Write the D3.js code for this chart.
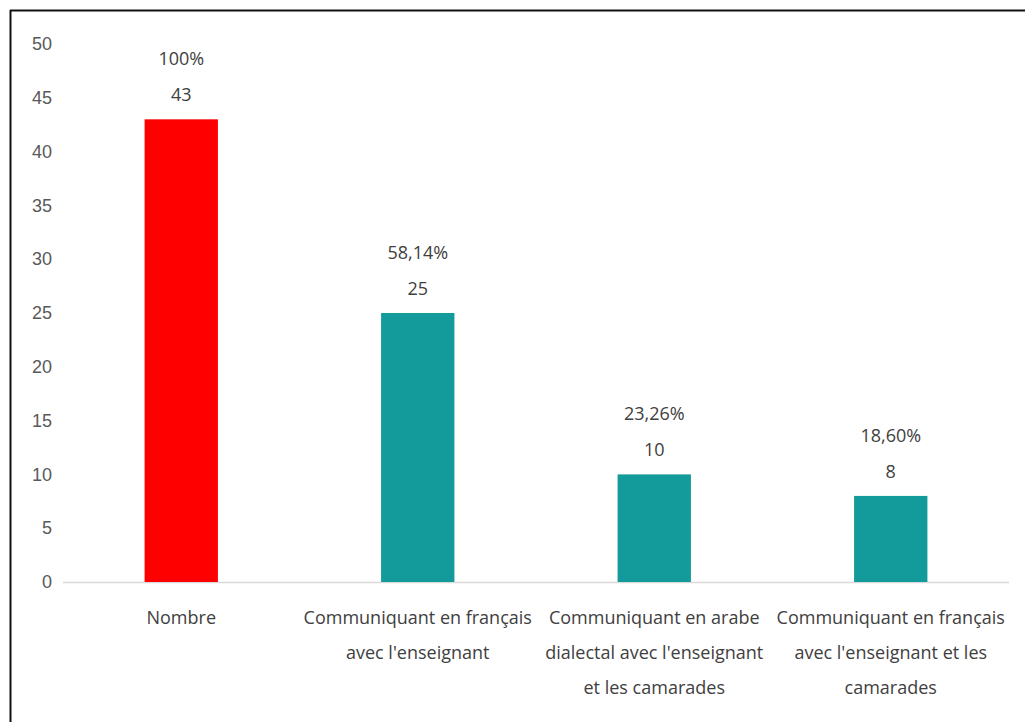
<!DOCTYPE html>
<html>
<head>
<meta charset="utf-8">
<script src="https://cdn.jsdelivr.net/npm/d3@7"></script>
<style>
  html, body { margin: 0; padding: 0; background: #fff; }
  svg { display: block; }
  text { font-family: "Liberation Sans Narrow", "Open Sans", sans-serif; }
</style>
</head>
<body>
<svg id="chart" width="1025" height="722"></svg>
<script>
// Category labels (each entry is a list of wrapped lines)
const categories = [
  ["Nombre"],
  ["Communiquant en français", "avec l'enseignant"],
  ["Communiquant en arabe", "dialectal avec l'enseignant", "et les camarades"],
  ["Communiquant en français", "avec l'enseignant et les", "camarades"]
];
const counts = [43, 25, 10, 8];
const percents = ["100%", "58,14%", "23,26%", "18,60%"];
const barColors = ["#ff0000", "#139a9a", "#139a9a", "#139a9a"];
const yTicks = [0, 5, 10, 15, 20, 25, 30, 35, 40, 45, 50];

const svg = d3.select("#chart");

// Frame: top and left edges
svg.append("line").attr("x1", 10).attr("x2", 1025).attr("y1", 10.5).attr("y2", 10.5)
  .attr("stroke", "#111").attr("stroke-width", 2);
svg.append("line").attr("x1", 10.5).attr("x2", 10.5).attr("y1", 10).attr("y2", 722)
  .attr("stroke", "#111").attr("stroke-width", 2);

const x = d3.scaleBand()
  .domain(d3.range(categories.length))
  .range([63, 1009])
  .paddingInner(0.69)
  .paddingOuter(0.345);

const y = d3.scaleLinear().domain([0, 50]).range([582, 44]);

// Y axis: labels only
const yAxis = svg.append("g")
  .attr("transform", "translate(52,0)")
  .call(d3.axisLeft(y).tickValues(yTicks).tickSize(0).tickPadding(0));
yAxis.select(".domain").remove();
yAxis.selectAll("text")
  .attr("fill", "#595959")
  .style("font-size", "18px")
  .style("font-family", "\"Liberation Sans Narrow\", sans-serif");

// Baseline
svg.append("line")
  .attr("x1", 63).attr("x2", 1009)
  .attr("y1", y(0) + 0.5).attr("y2", y(0) + 0.5)
  .attr("stroke", "#d9d9d9").attr("stroke-width", 1.5);

// Bars
svg.selectAll("rect.bar")
  .data(counts)
  .join("rect")
  .attr("class", "bar")
  .attr("x", (d, i) => x(i))
  .attr("width", x.bandwidth())
  .attr("y", d => y(d))
  .attr("height", d => y(0) - y(d))
  .attr("fill", (d, i) => barColors[i]);

// Value labels: percentage over count
const labels = svg.selectAll("g.vlabel")
  .data(counts)
  .join("g")
  .attr("class", "vlabel")
  .attr("transform", (d, i) => `translate(${x(i) + x.bandwidth() / 2},${y(d)})`);
labels.append("text")
  .attr("text-anchor", "middle")
  .attr("y", -54)
  .attr("fill", "#404040")
  .style("font-size", "18px")
  .text((d, i) => percents[i]);
labels.append("text")
  .attr("text-anchor", "middle")
  .attr("y", -18)
  .attr("fill", "#404040")
  .style("font-size", "18px")
  .text(d => d);

// Category labels
const cat = svg.selectAll("text.cat")
  .data(categories)
  .join("text")
  .attr("class", "cat")
  .attr("text-anchor", "middle")
  .attr("fill", "#404040")
  .style("font-size", "18px");
cat.each(function (lines, i) {
  d3.select(this).selectAll("tspan")
    .data(lines)
    .join("tspan")
    .attr("x", x(i) + x.bandwidth() / 2)
    .attr("y", (l, k) => 624 + k * 35)
    .text(l => l);
});
</script>
</body>
</html>
